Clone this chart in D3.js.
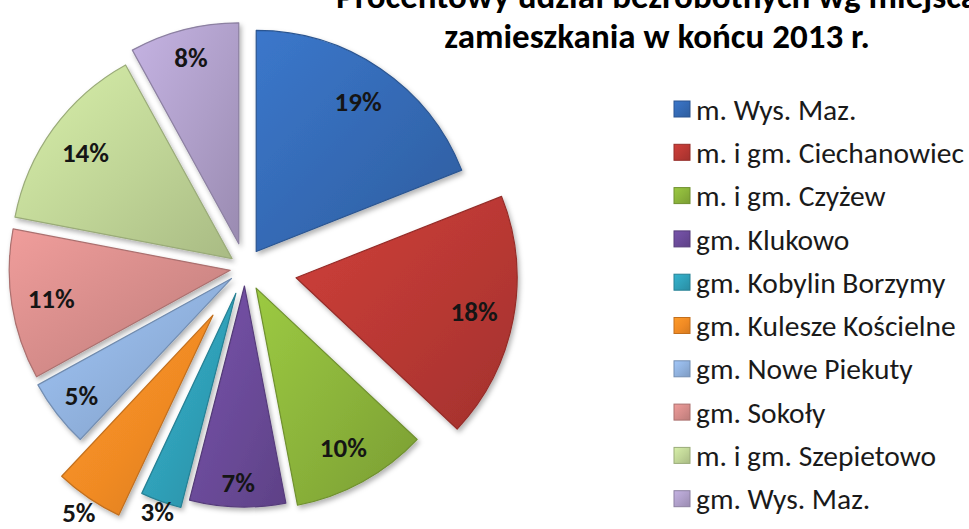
<!DOCTYPE html>
<html>
<head>
<meta charset="utf-8">
<script src="https://cdn.jsdelivr.net/npm/d3@7"></script>
<style>
  body { margin: 0; background: #fff; }
  svg { display: block; }
  text { font-family: Carlito, Lato, sans-serif; }
</style>
</head>
<body>
<script>
// data
var names = ["m. Wys. Maz.", "m. i gm. Ciechanowiec", "m. i gm. Czyżew", "gm. Klukowo",
             "gm. Kobylin Borzymy", "gm. Kulesze Kościelne", "gm. Nowe Piekuty", "gm. Sokoły",
             "m. i gm. Szepietowo", "gm. Wys. Maz."];
var shares = [19, 18, 10, 7, 3, 5, 5, 11, 14, 8];
var titleLines = ["Procentowy udział bezrobotnych wg miejsca", "zamieszkania w końcu 2013 r."];

// look of the slices
var colors = ["#3469b3", "#b83833", "#8ab23a", "#6a4a98", "#2f9fb7",
              "#f08a24", "#8fb0dc", "#d48b89", "#bfd496", "#ae9ec8"];
var explode = [20, 52, 23, 18, 27, 57, 17, 15, 16, 25];   // px pulled out from centre
var labelR  = [0.82, 0.82, 0.82, 0.89, 1.05, 1.08, 0.86, 0.82, 0.82, 0.87];

var width = 969, height = 529;
var cx = 245, cy = 268, R = 221;

var svg = d3.select("body").append("svg")
    .attr("width", width)
    .attr("height", height);

var defs = svg.append("defs");

// soft shadow under slices
var shadow = defs.append("filter").attr("id", "shadow")
    .attr("x", "-20%").attr("y", "-20%").attr("width", "140%").attr("height", "140%");
shadow.append("feDropShadow")
    .attr("dx", 2).attr("dy", 3).attr("stdDeviation", 2.5)
    .attr("flood-color", "#000").attr("flood-opacity", 0.3);

// bevel-ish gradient per colour
colors.forEach(function(c, i) {
  var g = defs.append("linearGradient").attr("id", "grad" + i)
      .attr("x1", "0%").attr("y1", "0%").attr("x2", "100%").attr("y2", "100%");
  g.append("stop").attr("offset", "0%").attr("stop-color", d3.color(c).brighter(0.35));
  g.append("stop").attr("offset", "55%").attr("stop-color", c);
  g.append("stop").attr("offset", "100%").attr("stop-color", d3.color(c).darker(0.35));
});

var pie = d3.pie().sort(null).value(function(d) { return d; });
var arcs = pie(shares);

var arc = d3.arc().innerRadius(0).outerRadius(R);

function offset(d, i) {
  var mid = (d.startAngle + d.endAngle) / 2;
  return [Math.sin(mid) * explode[i], -Math.cos(mid) * explode[i]];
}

var pieG = svg.append("g")
    .attr("transform", "translate(" + cx + "," + cy + ")");

pieG.selectAll("path.slice")
    .data(arcs)
    .enter().append("path")
    .attr("class", "slice")
    .attr("transform", function(d, i) {
      var o = offset(d, i);
      return "translate(" + o[0] + "," + o[1] + ")";
    })
    .attr("d", arc)
    .attr("fill", function(d, i) { return "url(#grad" + i + ")"; })
    .attr("stroke", function(d, i) { return d3.color(colors[i]).darker(0.6); })
    .attr("stroke-width", 1.2)
    .attr("stroke-linejoin", "round")
    .attr("filter", "url(#shadow)");

// percentage labels
pieG.selectAll("text.pct")
    .data(arcs)
    .enter().append("text")
    .attr("class", "pct")
    .attr("x", function(d, i) {
      var mid = (d.startAngle + d.endAngle) / 2;
      return offset(d, i)[0] + Math.sin(mid) * R * labelR[i];
    })
    .attr("y", function(d, i) {
      var mid = (d.startAngle + d.endAngle) / 2;
      return offset(d, i)[1] - Math.cos(mid) * R * labelR[i];
    })
    .attr("dy", "0.36em")
    .attr("text-anchor", "middle")
    .style("font-size", "27px")
    .style("font-weight", "bold")
    .style("fill", "#151515")
    .text(function(d) { return d.data + "%"; });

// title (first line is cut by the top edge, as in the source)
svg.append("g").selectAll("text")
    .data(titleLines)
    .enter().append("text")
    .attr("x", 657)
    .attr("y", function(d, i) { return 8 + i * 40; })
    .attr("text-anchor", "middle")
    .style("font-size", "35px")
    .style("font-weight", "bold")
    .style("fill", "#000")
    .text(function(d) { return d; });

// legend
var legend = svg.append("g").attr("transform", "translate(674,109)");
var rows = legend.selectAll("g")
    .data(names)
    .enter().append("g")
    .attr("transform", function(d, i) { return "translate(0," + (i * 43.3) + ")"; });

rows.append("rect")
    .attr("x", 0).attr("y", -8)
    .attr("width", 16).attr("height", 16)
    .attr("fill", function(d, i) { return "url(#grad" + i + ")"; })
    .attr("stroke", function(d, i) { return d3.color(colors[i]).darker(0.6); })
    .attr("stroke-width", 1);

rows.append("text")
    .attr("x", 22)
    .attr("dy", "0.36em")
    .style("font-size", "29.5px")
    .style("fill", "#1a1a1a")
    .text(function(d) { return d; });
</script>
</body>
</html>
